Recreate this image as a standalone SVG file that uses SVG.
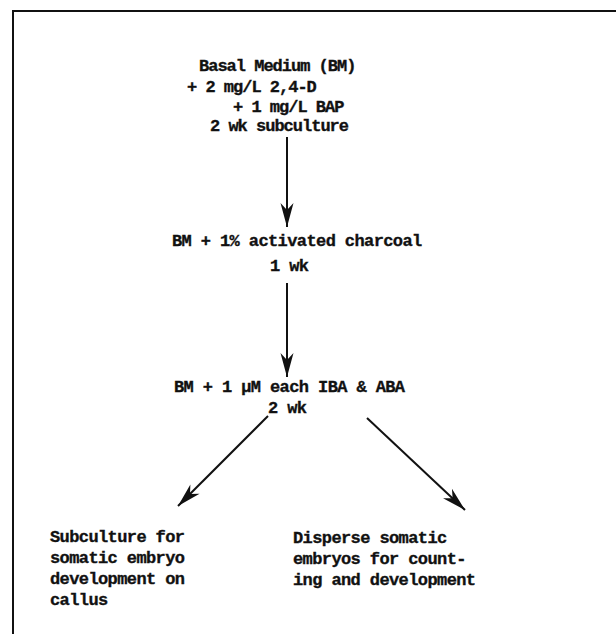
<svg xmlns="http://www.w3.org/2000/svg" width="616" height="634" viewBox="0 0 616 634">
<defs>
<style>
.t{font-family:"Liberation Mono","DejaVu Sans Mono",monospace;font-weight:bold;font-size:17px;letter-spacing:-0.6px;fill:#111;stroke:#111;stroke-width:0.35}
.s{letter-spacing:-1.0px}
.c{stroke:#111;stroke-width:2;fill:none}
.f{stroke:#111;stroke-width:2;fill:none}
</style>
<marker id="ah" markerUnits="userSpaceOnUse" markerWidth="30" markerHeight="20" viewBox="-26 -10 30 20" refX="0" refY="0" orient="auto">
<path d="M0,0 L-24,-6.5 L-17,0 L-24,6.5 Z" fill="#111"/>
</marker>
</defs>
<rect width="616" height="634" fill="#fff"/>
<g id="frame">
<path class="f" d="M13,634 L13,11 L616,11"/>
</g>
<g id="n1">
<text class="t s" x="199" y="71">Basal Medium (BM)</text>
<text class="t s" x="187" y="92">+ 2 mg/L 2,4-D</text>
<text class="t s" x="233" y="112">+ 1 mg/L BAP</text>
<text class="t s" x="210" y="131">2 wk subculture</text>
</g>
<g id="n2">
<text class="t" x="172" y="246">BM + 1% activated charcoal</text>
<text class="t" x="270" y="271">1 wk</text>
</g>
<g id="n3">
<text class="t" x="174" y="392">BM + 1 µM each IBA &amp; ABA</text>
<text class="t" x="268" y="413">2 wk</text>
</g>
<g id="n4">
<text class="t" x="50" y="542">Subculture for</text>
<text class="t" x="50" y="563">somatic embryo</text>
<text class="t" x="50" y="584">development on</text>
<text class="t" x="50" y="605">callus</text>
</g>
<g id="n5">
<text class="t" x="293" y="543">Disperse somatic</text>
<text class="t" x="293" y="564">embryos for count-</text>
<text class="t" x="293" y="585">ing and development</text>
</g>
<g id="connectors">
<line class="c" x1="287" y1="137" x2="287" y2="227" marker-end="url(#ah)"/>
<line class="c" x1="287" y1="283" x2="287" y2="377" marker-end="url(#ah)"/>
<line class="c" x1="268" y1="416" x2="178" y2="506" marker-end="url(#ah)"/>
<line class="c" x1="367" y1="418" x2="465" y2="510" marker-end="url(#ah)"/>
</g>
</svg>
